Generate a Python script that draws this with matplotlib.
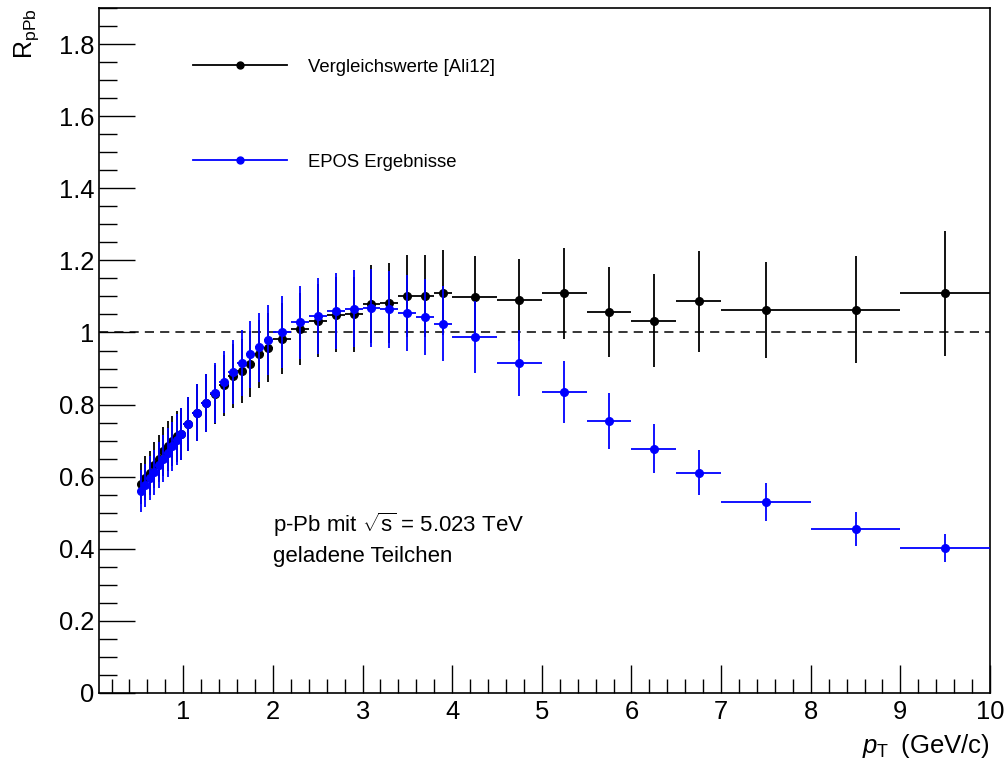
import numpy as np
import matplotlib
matplotlib.use("Agg")
import matplotlib.pyplot as plt
from matplotlib.lines import Line2D
from matplotlib.ticker import MultipleLocator

plt.rcParams['font.family'] = ['Liberation Sans', 'DejaVu Sans']
plt.rcParams['mathtext.fontset'] = 'custom'
plt.rcParams['mathtext.rm'] = 'Liberation Sans'
plt.rcParams['mathtext.it'] = 'Liberation Sans:italic'

# bin centres and half widths (GeV/c)
pt = [0.525, 0.575, 0.625, 0.675, 0.725, 0.775, 0.825, 0.875, 0.925, 0.975,
      1.05, 1.15, 1.25, 1.35, 1.45, 1.55, 1.65, 1.75, 1.85, 1.95,
      2.1, 2.3, 2.5, 2.7, 2.9, 3.1, 3.3, 3.5, 3.7, 3.9,
      4.25, 4.75, 5.25, 5.75, 6.25, 6.75, 7.5, 8.5, 9.5]
pt_err = [0.025] * 10 + [0.05] * 10 + [0.1] * 10 + [0.25] * 6 + [0.5] * 3

# Vergleichswerte [Ali12]
r_ali = [0.581, 0.596, 0.611, 0.632, 0.650, 0.670, 0.685, 0.699, 0.712, 0.719,
         0.745, 0.778, 0.805, 0.828, 0.853, 0.879, 0.893, 0.913, 0.941, 0.958,
         0.983, 1.009, 1.033, 1.049, 1.050, 1.079, 1.082, 1.102, 1.101, 1.110,
         1.099, 1.090, 1.109, 1.056, 1.033, 1.086, 1.063, 1.063, 1.109]
r_ali_err = [0.058, 0.060, 0.061, 0.063, 0.065, 0.067, 0.069, 0.070, 0.071, 0.072,
             0.075, 0.078, 0.081, 0.083, 0.085, 0.088, 0.089, 0.091, 0.094, 0.096,
             0.098, 0.100, 0.102, 0.104, 0.105, 0.108, 0.110, 0.114, 0.114, 0.118,
             0.114, 0.114, 0.126, 0.125, 0.128, 0.140, 0.133, 0.148, 0.173]

# EPOS Ergebnisse
r_epos = [0.560, 0.576, 0.595, 0.612, 0.632, 0.650, 0.667, 0.684, 0.703, 0.719,
          0.745, 0.778, 0.805, 0.833, 0.862, 0.890, 0.915, 0.939, 0.959, 0.978,
          1.001, 1.028, 1.045, 1.059, 1.066, 1.068, 1.064, 1.054, 1.043, 1.024,
          0.987, 0.915, 0.835, 0.754, 0.677, 0.611, 0.530, 0.454, 0.402]
r_epos_err = [0.058, 0.059, 0.061, 0.062, 0.064, 0.066, 0.068, 0.069, 0.071, 0.072,
              0.075, 0.078, 0.081, 0.083, 0.086, 0.089, 0.091, 0.093, 0.095, 0.097,
              0.100, 0.102, 0.105, 0.106, 0.107, 0.107, 0.107, 0.106, 0.106, 0.104,
              0.100, 0.092, 0.085, 0.077, 0.068, 0.062, 0.053, 0.047, 0.040]

fig = plt.figure(figsize=(10.06, 7.69), dpi=100)
ax = fig.add_axes([99 / 1006, 76 / 769, 891 / 1006, 685 / 769])

ax.errorbar(pt, r_ali, xerr=pt_err, yerr=r_ali_err, fmt='o', color='black',
            ms=5.5, elinewidth=1.3, capsize=0, zorder=3)
ax.errorbar(pt, r_epos, xerr=pt_err, yerr=r_epos_err, fmt='o', color='blue',
            ms=5.5, elinewidth=1.3, capsize=0, zorder=4)
ax.axhline(1.0, color='black', lw=1.1, ls=(0, (6, 4)), zorder=2)

ax.set_xlim(0.06, 10)
ax.set_ylim(0, 1.9)
ax.xaxis.set_major_locator(MultipleLocator(1))
ax.xaxis.set_minor_locator(MultipleLocator(0.2))
ax.yaxis.set_major_locator(MultipleLocator(0.2))
ax.yaxis.set_minor_locator(MultipleLocator(0.05))
ax.set_xticks(range(1, 11))
ax.set_xticklabels([str(i) for i in range(1, 11)])
yt = [0, 0.2, 0.4, 0.6, 0.8, 1.0, 1.2, 1.4, 1.6, 1.8]
ax.set_yticks(yt)
ax.set_yticklabels(['0', '0.2', '0.4', '0.6', '0.8', '1', '1.2', '1.4', '1.6', '1.8'])
ax.tick_params(which='both', direction='in', top=False, right=False, labelsize=18.4)
ax.tick_params(which='major', length=20, width=1)
ax.tick_params(which='minor', length=10, width=1)
ax.tick_params(axis='y', which='major', length=26)
ax.tick_params(axis='y', which='minor', length=13)
ax.tick_params(axis='x', pad=5)
for s in ax.spines.values():
    s.set_linewidth(1.2)

ax.set_xlabel(r'$\mathit{p}_{\mathregular{T}}\;\;$(GeV/c)', fontsize=18.5, loc='right', labelpad=6)
ax.set_ylabel(r'R$_{\mathregular{pPb}}$', fontsize=18, loc='top', labelpad=13)

ax.text(0.195, 0.184, r'p-Pb mit $\sqrt{\mathregular{s}}$ = 5.023 TeV' + '\ngeladene Teilchen',
        transform=ax.transAxes, fontsize=16, linespacing=1.45, va='bottom')

handles = [Line2D([], [], color='black', marker='o', ms=5, lw=1.3),
           Line2D([], [], color='blue', marker='o', ms=5, lw=1.3)]
ax.legend(handles, ['Vergleichswerte [Ali12]', 'EPOS Ergebnisse'], loc='upper left',
          bbox_to_anchor=(0.1055, 0.926), frameon=False, fontsize=13.3,
          handlelength=5.1, handletextpad=1.1, labelspacing=4.22,
          borderpad=0, borderaxespad=0)

fig.savefig('out.png', dpi=100)
